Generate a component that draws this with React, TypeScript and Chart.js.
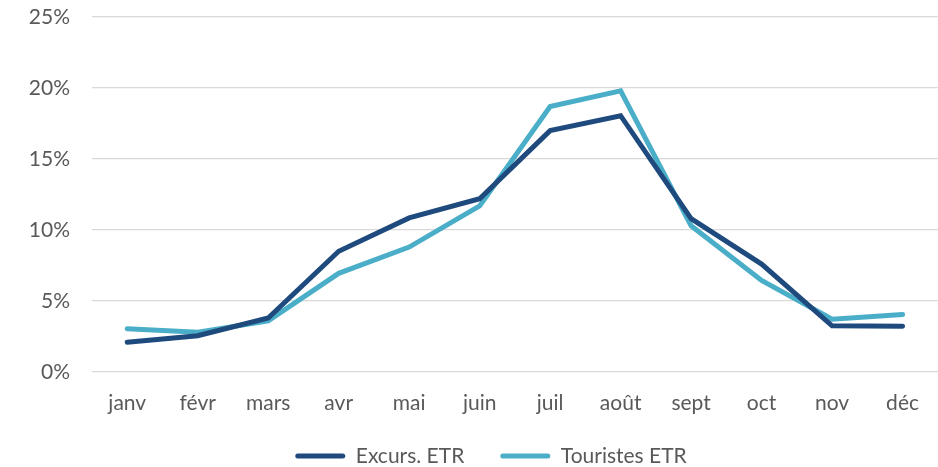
import React, { useEffect, useRef } from "react";
import { Chart, registerables } from "chart.js";

Chart.register(...registerables);

const categories = ["janv", "févr", "mars", "avr", "mai", "juin", "juil", "août", "sept", "oct", "nov", "déc"];
const excursEtr = [2.1, 2.55, 3.8, 8.5, 10.85, 12.2, 17.0, 18.05, 10.8, 7.6, 3.25, 3.23];
const touristesEtr = [3.05, 2.8, 3.6, 6.95, 8.8, 11.7, 18.7, 19.8, 10.3, 6.45, 3.72, 4.05];
const yTicks = [0, 5, 10, 15, 20, 25];
const seriesNames = ["Excurs. ETR", "Touristes ETR"];

const DARK = "#1F4A7E";
const LIGHT = "#4BAEC8";
const FONT = "Lato, 'Open Sans', sans-serif";
const TEXT = "#595959";
const FS = 21;

const legendShift = {
  id: "legendShift",
  afterLayout(chart: any) {
    const lg = chart.legend;
    if (!lg) return;
    lg.left += 22;
    lg.right += 22;
    lg.top -= 12.5;
    lg.bottom -= 12.5;
  },
};

export default function App() {
  const ref = useRef<HTMLCanvasElement | null>(null);
  useEffect(() => {
    document.body.style.margin = "0";
    const ctx = ref.current!;
    const chart = new Chart(ctx, {
      type: "line",
      plugins: [legendShift],
      data: {
        labels: categories,
        datasets: [
          {
            label: seriesNames[0],
            data: excursEtr,
            borderColor: DARK,
            backgroundColor: DARK,
            borderWidth: 5,
            pointRadius: 0,
            tension: 0,
            borderCapStyle: "round",
          },
          {
            label: seriesNames[1],
            data: touristesEtr,
            borderColor: LIGHT,
            backgroundColor: LIGHT,
            borderWidth: 5,
            pointRadius: 0,
            tension: 0,
            borderCapStyle: "round",
          },
        ],
      },
      options: {
        animation: false,
        responsive: false,
        maintainAspectRatio: false,
        layout: { padding: { top: 0, right: 0, left: 0, bottom: -22 } },
        plugins: {
          tooltip: { enabled: false },
          legend: {
            position: "bottom",
            labels: {
              font: { family: FONT, size: FS },
              color: TEXT,
              boxWidth: 50,
              boxHeight: 5,
              padding: 36,
              generateLabels: (c: any) =>
                c.data.datasets.map((d: any, i: number) => ({
                  text: d.label,
                  fillStyle: d.borderColor,
                  strokeStyle: d.borderColor,
                  lineWidth: 0,
                  fontColor: TEXT,
                  datasetIndex: i,
                  hidden: false,
                  borderRadius: 2.5,
                })),
            },
          },
        },
        scales: {
          x: {
            offset: true,
            grid: { display: false, drawTicks: false },
            border: { display: false },
            ticks: { font: { family: FONT, size: FS }, color: TEXT, padding: 19 },
            afterFit: (s: any) => {
              s.height = 50;
            },
          },
          y: {
            min: 0,
            max: 25,
            afterBuildTicks: (s: any) => {
              s.ticks = yTicks.map((v) => ({ value: v }));
            },
            grid: { color: "#D9D9D9", lineWidth: 1.3, drawTicks: false },
            border: { display: false },
            ticks: {
              font: { family: FONT, size: FS },
              color: TEXT,
              padding: 22,
              callback: (v: any) => v + "%",
            },
            afterFit: (s: any) => {
              s.width = 92;
              s.paddingTop = 17;
              s.paddingBottom = 0;
            },
          },
        },
      },
    });
    return () => chart.destroy();
  }, []);
  return (
    <div style={{ position: "absolute", left: 0, top: 0, width: 938, height: 467 }}>
      <canvas ref={ref} width={938} height={467} style={{ display: "block" }} />
    </div>
  );
}
